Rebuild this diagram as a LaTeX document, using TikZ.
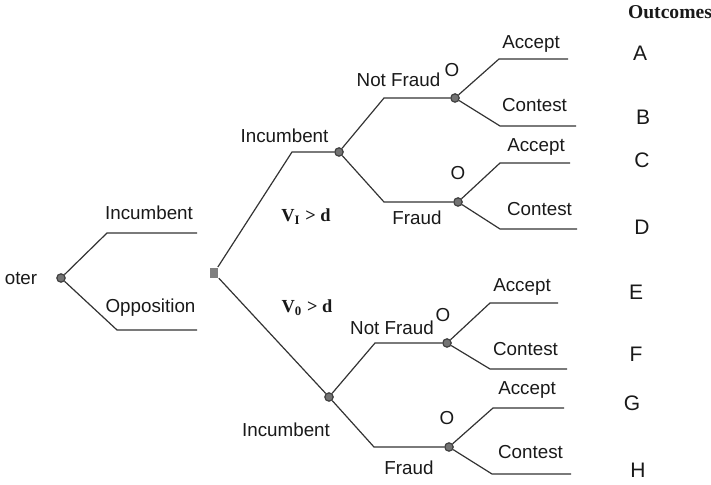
\documentclass[tikz,border=0pt]{standalone}
\usepackage{fontspec}
\setmainfont{Liberation Sans}
\newfontfamily\serifbf{Liberation Serif}
\usetikzlibrary{positioning}

\begin{document}
\begin{tikzpicture}[x=0.5pt, y=-0.5pt,
every path/.style = {draw=black!80, line width=0.6pt},
 dot/.style = {circle, draw=black!75, fill=black!55,
      inner sep=0pt, minimum size=4.2pt},
 sqr/.style = {rectangle, draw=none, fill=black!50,
      inner sep=0pt, minimum width=4.2pt, minimum height=5.4pt},
 lbl/.style = {inner sep=0pt, text=black!90, text height=6.7pt, text depth=0pt,
      font=\fontsize{9.4}{11}\selectfont},
 outc/.style = {lbl, text height=7.5pt, font=\fontsize{10.5}{12}\selectfont},
 cond/.style = {lbl, text height=6pt, font=\fontsize{9.2}{11}\selectfont\serifbf\bfseries}
                    ]
\useasboundingbox[draw=none] (0,0) rectangle (711,485);
% decision and chance points
\node (vtr)  [dot] at ( 61,278) {};
\node (nat)  [sqr] at (214,273) {};
\node (inc1) [dot] at (339,152) {};
\node (inc2) [dot] at (329,397) {};
\node (op1)  [dot] at (455, 98) {};
\node (op2)  [dot] at (458,202) {};
\node (op3)  [dot] at (447,343) {};
\node (op4)  [dot] at (449,447) {};
%
\coordinate (vi)  at (107,233); \coordinate (viE) at (197,233);
\coordinate (vo)  at (117,330); \coordinate (voE) at (197,330);
\coordinate (ni)  at (292,152);
\coordinate (nf1) at (384, 98); \coordinate (fr1) at (384,202);
\coordinate (nf2) at (375,343); \coordinate (fr2) at (374,447);
\coordinate (a1) at (499, 59); \coordinate (a1E) at (568, 59);
\coordinate (c1) at (500,126); \coordinate (c1E) at (576,126);
\coordinate (a2) at (500,163); \coordinate (a2E) at (570,163);
\coordinate (c2) at (500,229); \coordinate (c2E) at (577,229);
\coordinate (a3) at (490,303); \coordinate (a3E) at (558,303);
\coordinate (c3) at (490,369); \coordinate (c3E) at (567,369);
\coordinate (a4) at (493,408); \coordinate (a4E) at (564,408);
\coordinate (c4) at (492,474); \coordinate (c4E) at (571,474);
%
\draw (vtr) -- (vi) -- (viE)
      (vtr) -- (vo) -- (voE)
      (nat) -- (ni) -- (inc1)
      (nat) -- (inc2)
      (inc1) -- (nf1) -- (op1)
      (inc1) -- (fr1) -- (op2)
      (inc2) -- (nf2) -- (op3)
      (inc2) -- (fr2) -- (op4)
      (op1) -- (a1) -- (a1E)   (op1) -- (c1) -- (c1E)
      (op2) -- (a2) -- (a2E)   (op2) -- (c2) -- (c2E)
      (op3) -- (a3) -- (a3E)   (op3) -- (c3) -- (c3E)
      (op4) -- (a4) -- (a4E)   (op4) -- (c4) -- (c4E);
% labels
\node (tVtr) [lbl] at ( 21,278) {oter};
\node (tVi)  [lbl] at (149,213) {Incumbent};
\node (tVo)  [lbl] at (150.5,306) {Opposition};
\node (tI1)  [lbl] at (284.5,136) {Incumbent};
\node (tI2)  [lbl] at (286,430) {Incumbent};
\node (tCi)  [cond] at (306,216) {V\textsubscript{I} > d};
\node (tCo)  [cond] at (307,307) {V\textsubscript{0} > d};
\node (tNf1) [lbl] at (398.5,80) {Not Fraud};
\node (tFr1) [lbl] at (417,218) {Fraud};
\node (tNf2) [lbl] at (392,328) {Not Fraud};
\node (tFr2) [lbl] at (409,468) {Fraud};
\node (tO1)  [lbl] at (452, 70) {O};
\node (tO2)  [lbl] at (458,173) {O};
\node (tO3)  [lbl] at (443,315) {O};
\node (tO4)  [lbl] at (447,418) {O};
\node (tA1)  [lbl] at (531, 42) {Accept};
\node (tC1)  [lbl] at (534.5,105) {Contest};
\node (tA2)  [lbl] at (536,145) {Accept};
\node (tC2)  [lbl] at (539.5,209) {Contest};
\node (tA3)  [lbl] at (522,285) {Accept};
\node (tC3)  [lbl] at (525.5,349) {Contest};
\node (tA4)  [lbl] at (527,388) {Accept};
\node (tC4)  [lbl] at (530.5,452) {Contest};
% outcomes
\node (tOut) [cond, font=\fontsize{9.8}{11}\selectfont\serifbf\bfseries] at (670,13) {Outcomes};
\node (oA) [outc] at (640, 53) {A};
\node (oB) [outc] at (643,117) {B};
\node (oC) [outc] at (642,160) {C};
\node (oD) [outc] at (642,227) {D};
\node (oE) [outc] at (636,292) {E};
\node (oF) [outc] at (636,354) {F};
\node (oG) [outc] at (632,403) {G};
\node (oH) [outc] at (638,470) {H};
\end{tikzpicture}
\end{document}
